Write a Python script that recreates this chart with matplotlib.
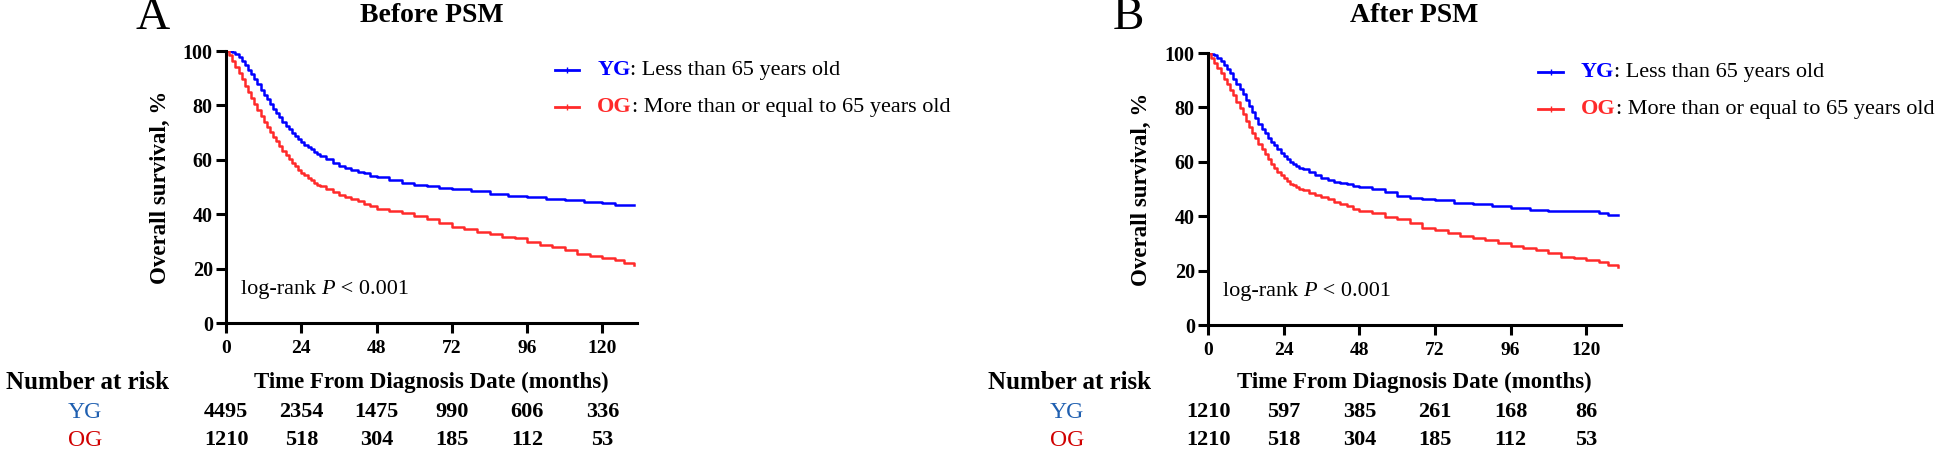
import matplotlib
matplotlib.use("Agg")
import matplotlib.pyplot as plt
from matplotlib.transforms import blended_transform_factory

plt.rcParams['font.family'] = ['Liberation Serif', 'DejaVu Serif']

# ---- data ----
months_ticks = [0, 24, 48, 72, 96, 120]

# Before PSM
a_yg_t = [0, 1, 2, 3, 4, 5, 6, 7, 8, 9, 10, 11, 12, 13, 14, 15, 16, 17, 18, 19, 20, 21, 22,
          23, 24, 25, 26, 27, 28, 29, 30, 32, 34, 36, 38, 40, 42, 44, 46, 48,
          52, 56, 60, 64, 68, 72, 78, 84, 90, 96, 102, 108, 114, 120, 124, 130]
a_yg_s = [100, 100, 99.6, 99.0, 97.8, 96.4, 94.8, 93.0, 91.4, 89.6, 87.8, 85.8, 84.0, 82.2,
          80.4, 78.8, 77.2, 75.6, 74.0, 72.6, 71.2, 69.8, 68.6, 67.6, 66.6, 65.6, 64.7, 63.8,
          63.0, 62.2, 61.5, 60.2, 59.0, 57.9, 57.0, 56.3, 55.6, 55.0, 54.2, 53.6,
          52.5, 51.5, 50.8, 50.2, 49.6, 49.1, 48.4, 47.6, 46.8, 46.2, 45.6, 45.2, 44.6, 44.2,
          43.3, 43.3]
a_og_t = [0, 1, 2, 3, 4, 5, 6, 7, 8, 9, 10, 11, 12, 13, 14, 15, 16, 17, 18, 19, 20, 21, 22,
          23, 24, 25, 26, 27, 28, 29, 30, 32, 34, 36, 38, 40, 42, 44, 46, 48,
          52, 56, 60, 64, 68, 72, 76, 80, 84, 88, 92, 96, 100, 104, 108, 112, 116, 120, 124,
          127, 130]
a_og_s = [100, 98.5, 96.5, 94.3, 92.0, 89.6, 87.2, 84.9, 82.6, 80.4, 78.2, 76.0, 74.0, 72.1,
          70.3, 68.5, 66.8, 65.1, 63.4, 61.9, 60.4, 59.0, 57.6, 56.4, 55.3, 54.3, 53.4, 52.5,
          51.6, 50.9, 50.2, 49.1, 48.2, 47.2, 46.4, 45.6, 44.7, 43.8, 42.9, 42.0,
          41.2, 40.4, 39.3, 38.3, 36.6, 35.2, 34.6, 33.6, 32.6, 31.6, 31.2, 29.8, 28.6, 27.8,
          26.8, 25.3, 24.8, 24.0, 23.2, 22.0, 21.5]

# After PSM
b_yg_t = [0, 1, 2, 3, 4, 5, 6, 7, 8, 9, 10, 11, 12, 13, 14, 15, 16, 17, 18, 19, 20, 21, 22,
          23, 24, 25, 26, 27, 28, 29, 30, 32, 34, 36, 38, 40, 42, 44, 46, 48,
          52, 56, 60, 64, 68, 72, 78, 84, 90, 96, 102, 108, 114, 120, 124, 127, 130]
b_yg_s = [100, 99.8, 99.2, 98.2, 97.0, 95.7, 94.2, 92.5, 90.6, 88.7, 86.8, 84.8, 82.8, 80.6,
          78.4, 76.2, 74.0, 72.2, 70.5, 68.9, 67.4, 66.0, 64.6, 63.3, 62.0, 61.0, 60.0, 59.2,
          58.4, 57.8, 57.2, 56.1, 55.1, 54.2, 53.4, 52.6, 52.2, 51.8, 51.2, 50.6,
          50.0, 49.0, 47.6, 46.8, 46.2, 45.8, 45.0, 44.4, 43.6, 43.0, 42.4, 42.0, 42.0, 41.8,
          41.0, 40.3, 40.3]
b_og_t = [0, 1, 2, 3, 4, 5, 6, 7, 8, 9, 10, 11, 12, 13, 14, 15, 16, 17, 18, 19, 20, 21, 22,
          23, 24, 25, 26, 27, 28, 29, 30, 32, 34, 36, 38, 40, 42, 44, 46, 48,
          52, 56, 60, 64, 68, 72, 76, 80, 84, 88, 92, 96, 100, 104, 108, 112, 116, 120, 124,
          127, 130]
b_og_s = [100, 98.2, 96.2, 94.4, 92.6, 90.6, 88.6, 86.5, 84.4, 82.1, 79.8, 77.4, 75.0, 72.8,
          70.6, 68.6, 66.6, 64.7, 62.8, 61.0, 59.2, 57.8, 56.4, 55.2, 54.0, 53.0, 52.0, 51.3,
          50.6, 50.1, 49.6, 48.7, 47.8, 47.0, 46.2, 45.4, 44.5, 43.6, 42.8, 42.0,
          41.0, 39.8, 38.8, 37.6, 35.8, 34.8, 34.0, 32.8, 32.0, 31.4, 30.2, 29.2, 28.2, 27.4,
          26.4, 25.0, 24.6, 24.0, 23.2, 22.0, 21.5]

a_risk_yg = [4495, 2354, 1475, 990, 606, 336]
a_risk_og = [1210, 518, 304, 185, 112, 53]
b_risk_yg = [1210, 597, 385, 261, 168, 86]
b_risk_og = [1210, 518, 304, 185, 112, 53]

BLUE = '#0000FF'
RED = '#FF2A2A'
TAB_BLUE = '#1F5FB0'
TAB_RED = '#D00000'

W, H = 1944, 473


def chain_text(ax, x, y, parts, transform, size):
    """Draw pieces of text one after another on the same line."""
    s, kw = parts[0]
    prev = ax.text(x, y, s, transform=transform, fontsize=size, va='bottom', ha='left', **kw)
    for s, kw in parts[1:]:
        prev = ax.annotate(s, xy=(1, 0), xycoords=prev, va='bottom', ha='left',
                           fontsize=size, **kw)
    return prev


def draw_panel(fig, rect, letter, letter_x, title, yg_t, yg_s, og_t, og_s, risk_yg, risk_og):
    ax = fig.add_axes(rect)
    ax.step(yg_t, yg_s, where='post', color=BLUE, lw=1.8)
    ax.step(og_t, og_s, where='post', color=RED, lw=1.8)

    ax.set_xlim(0, 131)
    ax.set_ylim(0, 100)
    ax.set_xticks(months_ticks)
    ax.set_yticks([0, 20, 40, 60, 80, 100])
    for side in ['top', 'right']:
        ax.spines[side].set_visible(False)
    for side in ['left', 'bottom']:
        ax.spines[side].set_linewidth(2.2)
    ax.tick_params(axis='both', direction='out', length=7.5, width=2.2)
    ax.tick_params(axis='y', pad=2)
    ax.tick_params(axis='x', pad=5)
    for lab in ax.get_xticklabels():
        lab.set_fontweight('bold')
        lab.set_fontsize(14)
    for lab in ax.get_yticklabels():
        lab.set_fontweight('bold')
        lab.set_fontsize(14.5)

    ax.text(-0.16, 0.5, 'Overall survival, %', transform=ax.transAxes, rotation=90,
            ha='center', va='center', fontsize=16.5, fontweight='bold')

    # legend drawn by hand (coloured bold group name + plain description)
    for yy, col, grp, desc in [(0.93, BLUE, 'YG', ': Less than 65 years old'),
                               (0.795, RED, 'OG', ': More than or equal to 65 years old')]:
        ax.plot([0.80, 0.83, 0.86], [yy, yy, yy], transform=ax.transAxes, clip_on=False,
                color=col, lw=2, marker='|', markevery=[1], ms=4)
        t = ax.text(0.903, yy, grp, transform=ax.transAxes, va='center', ha='left',
                    fontsize=16, fontweight='bold', color=col)
        ax.annotate(desc, xy=(1, 0), xycoords=t, va='bottom', ha='left', fontsize=16)

    chain_text(ax, 0.036, 0.09, [('log-rank ', {}), ('P', {'style': 'italic'}),
                                 (' < 0.001', {})], ax.transAxes, 16)

    # header letter and title
    fig.text(letter_x / W, 1 - 18 / H, letter, fontsize=34, ha='center', va='center')
    ax.text(0.5, 1 - 16 / H, title, transform=blended_transform_factory(ax.transAxes, fig.transFigure),
            ha='center', va='center', fontsize=20, fontweight='bold')

    # number at risk table
    mix = blended_transform_factory(ax.transData, fig.transFigure)
    mix_ax = blended_transform_factory(ax.transAxes, fig.transFigure)
    left_px = rect[0] * W
    ax.text(0.5, 1 - 382 / H, 'Time From Diagnosis Date (months)', transform=mix_ax,
            ha='center', va='center', fontsize=16.5, fontweight='bold')
    fig.text((left_px - 57) / W, 1 - 382 / H, 'Number at risk', ha='right', va='center',
             fontsize=18, fontweight='bold')
    fig.text((left_px - 141) / W, 1 - 412 / H, 'YG', ha='center', va='center',
             fontsize=17, color=TAB_BLUE)
    fig.text((left_px - 141) / W, 1 - 440 / H, 'OG', ha='center', va='center',
             fontsize=17, color=TAB_RED)
    for m, n1, n2 in zip(months_ticks, risk_yg, risk_og):
        ax.text(m, 1 - 412 / H, str(n1), transform=mix, ha='center', va='center',
                fontsize=16, fontweight='bold', clip_on=False)
        ax.text(m, 1 - 440 / H, str(n2), transform=mix, ha='center', va='center',
                fontsize=16, fontweight='bold', clip_on=False)
    return ax


def main():
    fig = plt.figure(figsize=(W / 100, H / 100), dpi=100)

    draw_panel(fig, [226 / W, (H - 323) / H, 411 / W, 272 / H], 'A', 153, 'Before PSM',
               a_yg_t, a_yg_s, a_og_t, a_og_s, a_risk_yg, a_risk_og)
    draw_panel(fig, [1208 / W, (H - 325) / H, 413 / W, 272 / H], 'B', 1128, 'After PSM',
               b_yg_t, b_yg_s, b_og_t, b_og_s, b_risk_yg, b_risk_og)

    fig.savefig('out.png', dpi=100, facecolor='white')


if __name__ == "__main__":
    main()
